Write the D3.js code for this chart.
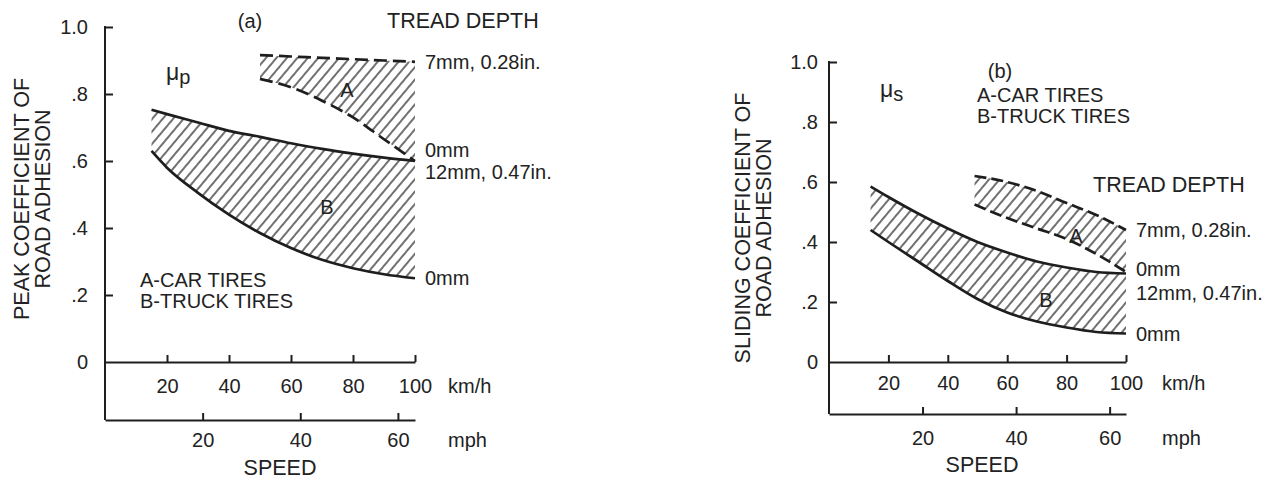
<!DOCTYPE html>
<html>
<head>
<meta charset="utf-8">
<script src="https://cdn.jsdelivr.net/npm/d3@7"></script>
<style>
  body { margin: 0; background: #fff; }
  svg text { font-family: "Liberation Sans", Arial, Helvetica, sans-serif; fill: #222; }
</style>
</head>
<body>
<svg id="chart" width="1266" height="481"></svg>
<script>
// ---- axis ticks ----
const kmhTicks = [20, 40, 60, 80, 100];
const mphTicks = [20, 40, 60];
const yTicks = [0, 0.2, 0.4, 0.6, 0.8, 1.0];
const yTickLabels = ["0", ".2", ".4", ".6", ".8", "1.0"];
const yMarkTicks = [0.2, 0.4, 0.6, 0.8, 1.0];

// ---- (a) peak coefficient of road adhesion, μp ----
const peakCarSpeed   = [50, 60, 70, 80, 90, 100];
const peakCarNew     = [0.916, 0.912, 0.908, 0.904, 0.900, 0.896];   // 7mm, 0.28in.
const peakCarWorn    = [0.845, 0.820, 0.780, 0.730, 0.665, 0.600];   // 0mm
const peakTruckSpeed = [15, 20, 30, 40, 50, 60, 70, 80, 90, 100];
const peakTruckNew   = [0.753, 0.740, 0.715, 0.690, 0.672, 0.653, 0.636, 0.622, 0.610, 0.600]; // 12mm, 0.47in.
const peakTruckWorn  = [0.630, 0.580, 0.505, 0.440, 0.385, 0.340, 0.305, 0.280, 0.262, 0.250]; // 0mm

// ---- (b) sliding coefficient of road adhesion, μs ----
const slideCarSpeed   = [49, 60, 70, 80, 90, 100];
const slideCarNew     = [0.620, 0.600, 0.570, 0.530, 0.490, 0.440];
const slideCarWorn    = [0.525, 0.480, 0.445, 0.410, 0.360, 0.300];
const slideTruckSpeed = [14, 20, 30, 40, 50, 60, 70, 80, 90, 100];
const slideTruckNew   = [0.585, 0.550, 0.495, 0.445, 0.400, 0.365, 0.335, 0.315, 0.300, 0.295];
const slideTruckWorn  = [0.440, 0.400, 0.335, 0.270, 0.210, 0.165, 0.135, 0.115, 0.100, 0.095];

// tread depth labels at the right-hand end of each curve
const depthCarNew = "7mm, 0.28in.";
const depthCarWorn = "0mm";
const depthTruckNew = "12mm, 0.47in.";
const depthTruckWorn = "0mm";

const MPH_AT_END = 63.5;   // mph value under the 100 km/h end of the speed axis
const INK = "#1e1e1e";
const FS_BIG = "21.5px";   // axis titles, SPEED, TREAD DEPTH
const FS = "20px";         // other labels and tick labels

const svg = d3.select("#chart");

// diagonal hatching for the bands
const defs = svg.append("defs");
defs.append("pattern")
  .attr("id", "hatch")
  .attr("patternUnits", "userSpaceOnUse")
  .attr("width", 8).attr("height", 10)
  .attr("patternTransform", "rotate(40)")
  .append("line")
  .attr("x1", 1).attr("y1", -1).attr("x2", 1).attr("y2", 11)
  .attr("stroke", "#1a1a1a").attr("stroke-width", 1.25);

function zipPts(xs, ys) { return xs.map((v, i) => [v, ys[i]]); }

function styleAxis(g) {
  g.attr("font-family", null).attr("font-size", null).attr("color", INK);
  g.selectAll("line").attr("stroke-width", 2);
  g.selectAll("path").attr("stroke-width", 2);
  g.selectAll("text").style("font-size", FS);
}

function drawPanel(p) {
  const g = svg.append("g");
  const x = d3.scaleLinear().domain([0, 100]).range(p.xRange);
  const xm = d3.scaleLinear().domain([0, MPH_AT_END]).range(p.xRange);
  const y = d3.scaleLinear().domain([0, 1]).range(p.yRange);
  const x0 = p.xRange[0];

  // bands
  const area = d3.area()
    .x(d => x(d[0])).y0(d => y(d[1])).y1(d => y(d[2]))
    .curve(d3.curveMonotoneX);
  const line = d3.line()
    .x(d => x(d[0])).y(d => y(d[1]))
    .curve(d3.curveMonotoneX);

  const carBand = p.carSpeed.map((s, i) => [s, p.carWorn[i], p.carNew[i]]);
  const truckBand = p.truckSpeed.map((s, i) => [s, p.truckWorn[i], p.truckNew[i]]);
  g.append("path").attr("d", area(carBand)).attr("fill", "url(#hatch)");
  g.append("path").attr("d", area(truckBand)).attr("fill", "url(#hatch)");

  // car tyres: dashed, truck tyres: solid
  [p.carNew, p.carWorn].forEach(vals => {
    g.append("path").attr("d", line(zipPts(p.carSpeed, vals)))
      .attr("fill", "none").attr("stroke", INK).attr("stroke-width", 2.7)
      .attr("stroke-dasharray", p.dash);
  });
  [p.truckNew, p.truckWorn].forEach(vals => {
    g.append("path").attr("d", line(zipPts(p.truckSpeed, vals)))
      .attr("fill", "none").attr("stroke", INK).attr("stroke-width", 2.7);
  });

  // vertical axis line down to the mph axis
  g.append("line")
    .attr("x1", x0).attr("x2", x0)
    .attr("y1", y(1) - 1).attr("y2", p.mphY)
    .attr("stroke", INK).attr("stroke-width", 2);

  // y tick marks (pointing inward)
  const yMarks = g.append("g").attr("transform", `translate(${x0},0)`)
    .call(d3.axisRight(y).tickValues(yMarkTicks).tickSize(8).tickFormat(""));
  yMarks.select(".domain").remove();
  styleAxis(yMarks);

  // y tick labels
  const yLab = g.append("g").attr("transform", `translate(${x0},0)`)
    .call(d3.axisLeft(y).tickValues(yTicks).tickSize(0).tickPadding(p.yPad)
      .tickFormat((d, i) => yTickLabels[i]));
  yLab.select(".domain").remove();
  styleAxis(yLab);

  // km/h axis along μ = 0
  const kmh = g.append("g").attr("transform", `translate(0,${y(0)})`)
    .call(d3.axisTop(x).tickValues(kmhTicks).tickSize(7).tickSizeOuter(0).tickFormat(""));
  styleAxis(kmh);
  const kmhLab = g.append("g").attr("transform", `translate(0,${y(0)})`)
    .call(d3.axisBottom(x).tickValues(kmhTicks).tickSize(0).tickPadding(p.kmhPad));
  kmhLab.select(".domain").remove();
  styleAxis(kmhLab);

  // mph axis
  const mph = g.append("g").attr("transform", `translate(0,${p.mphY})`)
    .call(d3.axisTop(xm).tickValues(mphTicks).tickSize(7).tickSizeOuter(0).tickFormat(""));
  styleAxis(mph);
  const mphLab = g.append("g").attr("transform", `translate(0,${p.mphY})`)
    .call(d3.axisBottom(xm).tickValues(mphTicks).tickSize(0).tickPadding(p.mphPad));
  mphLab.select(".domain").remove();
  styleAxis(mphLab);

  const txt = (tx, ty, s, anchor, size) => g.append("text")
    .attr("x", tx).attr("y", ty).attr("text-anchor", anchor || "start")
    .style("font-size", size || FS).text(s);

  txt(p.unitX, y(0) + p.kmhPad + 14, "km/h");
  txt(p.unitX, p.mphY + p.mphPad + 14, "mph");
  txt(p.speedX, p.speedY, "SPEED", "middle", FS_BIG);

  // rotated axis title
  const t = g.append("text")
    .attr("transform", `translate(${p.titleX},${p.titleY}) rotate(-90)`)
    .attr("text-anchor", "middle").style("font-size", FS_BIG);
  t.append("tspan").attr("x", 0).attr("dy", 0).text(p.title1);
  t.append("tspan").attr("x", 0).attr("dy", 21).text("ROAD ADHESION");

  // panel tag and μ symbol
  txt(p.tagX, p.tagY, p.tag, "middle");
  const mu = g.append("text").attr("x", p.muX).attr("y", p.muY).style("font-size", "23px");
  mu.append("tspan").text("μ");
  mu.append("tspan").attr("dy", 4).style("font-size", "20px").text(p.muSub);

  // band letters
  txt(p.aX, p.aY, "A", "middle");
  txt(p.bX, p.bY, "B", "middle");

  // legend
  txt(p.legX, p.legY, "A-CAR TIRES");
  txt(p.legX, p.legY + 21, "B-TRUCK TIRES");

  // tread depth labels, placed from the end values
  const last = a => a[a.length - 1];
  const lx = x(100) + 10;
  txt(p.treadX, p.treadY, "TREAD DEPTH", "start", FS_BIG);
  txt(lx, y(last(p.carNew)) + 7, depthCarNew);
  txt(lx, y(last(p.carWorn)) + 7 + p.offCarWorn, depthCarWorn);
  txt(lx, y(last(p.truckNew)) + 7 + p.offTruckNew, depthTruckNew);
  txt(lx, y(last(p.truckWorn)) + 7, depthTruckWorn);
}

drawPanel({
  xRange: [105, 415], yRange: [362, 27], mphY: 420,
  yPad: 17, kmhPad: 17, mphPad: 13,
  carSpeed: peakCarSpeed, carNew: peakCarNew, carWorn: peakCarWorn,
  truckSpeed: peakTruckSpeed, truckNew: peakTruckNew, truckWorn: peakTruckWorn,
  dash: "13,6",
  unitX: 448, speedX: 280, speedY: 475,
  titleX: 29, titleY: 199, title1: "PEAK COEFFICIENT OF",
  tag: "(a)", tagX: 250, tagY: 28,
  muX: 166, muY: 80, muSub: "p",
  aX: 347, aY: 97, bX: 327, bY: 214,
  legX: 140, legY: 287,
  treadX: 387, treadY: 28,
  offCarWorn: -11, offTruckNew: 11
});

drawPanel({
  xRange: [829, 1126], yRange: [362, 62], mphY: 414,
  yPad: 11, kmhPad: 14, mphPad: 17,
  carSpeed: slideCarSpeed, carNew: slideCarNew, carWorn: slideCarWorn,
  truckSpeed: slideTruckSpeed, truckNew: slideTruckNew, truckWorn: slideTruckWorn,
  dash: "12,5",
  unitX: 1162, speedX: 982, speedY: 472,
  titleX: 750, titleY: 228, title1: "SLIDING COEFFICIENT OF",
  tag: "(b)", tagX: 1000, tagY: 78,
  muX: 880, muY: 97, muSub: "s",
  aX: 1076, aY: 243, bX: 1046, bY: 307,
  legX: 977, legY: 102,
  treadX: 1093, treadY: 192,
  offCarWorn: -3, offTruckNew: 19
});
</script>
</body>
</html>
